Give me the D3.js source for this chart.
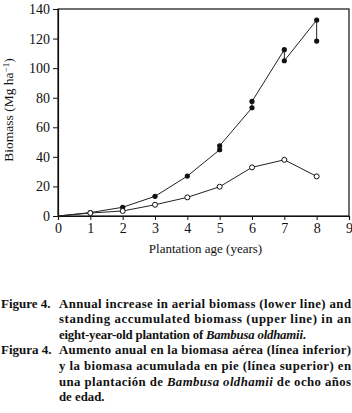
<!DOCTYPE html>
<html><head><meta charset="utf-8">
<script src="https://cdn.jsdelivr.net/npm/d3@7"></script>
<style>body{margin:0;background:#fff;} svg{display:block;}</style>
</head><body>
<svg id="c" width="352" height="413"></svg>
<script>
// Upper line: standing accumulated biomass (filled circles), in path order
const upperAge = [0, 1, 2, 3, 4, 5, 5, 6, 6, 7, 7, 8, 8];
const upperBio = [0, 2.3, 5.9, 13.3, 27, 44.8, 47.5, 73.2, 77.5, 112.5, 105, 132.5, 118.3];
// Lower line: annual increase in aerial biomass (open circles)
const lowerAge = [0, 1, 2, 3, 4, 5, 6, 7, 8];
const lowerBio = [0, 2.0, 3.4, 7.6, 12.6, 19.8, 32.9, 38, 26.8];
const xTicks = [0,1,2,3,4,5,6,7,8,9];
const yTicks = [0,20,40,60,80,100,120,140];

const FF = "Liberation Serif";
const svg = d3.select("#c");
const x = d3.scaleLinear().domain([0,9]).range([58,349]);
const y = d3.scaleLinear().domain([0,140]).range([216,9]);

svg.append("rect").attr("x",58).attr("y",9).attr("width",291).attr("height",207)
  .attr("fill","none").attr("stroke","#111").attr("stroke-width",1.2);

const xa = svg.append("g").attr("transform","translate(0,216)")
  .call(d3.axisBottom(x).tickValues(xTicks).tickSize(4).tickPadding(3).tickFormat(d3.format("d")));
const ya = svg.append("g").attr("transform","translate(58,0)")
  .call(d3.axisLeft(y).tickValues(yTicks).tickSize(5).tickPadding(3).tickFormat(d3.format("d")));
[xa,ya].forEach(a=>{
  a.attr("font-family",FF).attr("font-size",14);
  a.select(".domain").attr("stroke","#111").attr("stroke-width",1.2);
  a.selectAll(".tick line").attr("stroke","#111").attr("stroke-width",1);
  a.selectAll(".tick text").attr("font-family",FF).attr("font-size",14).attr("fill","#111");
});

const upper = upperAge.map((a,i)=>[a,upperBio[i]]);
const lower = lowerAge.map((a,i)=>[a,lowerBio[i]]);
const line = d3.line().x(d=>x(d[0])).y(d=>y(d[1]));

svg.append("path").datum(upper).attr("d",line).attr("fill","none").attr("stroke","#222").attr("stroke-width",1);
svg.append("path").datum(lower).attr("d",line).attr("fill","none").attr("stroke","#222").attr("stroke-width",1);

svg.selectAll(".up").data(upper.slice(1)).enter().append("circle")
  .attr("cx",d=>x(d[0])).attr("cy",d=>y(d[1])).attr("r",2.6).attr("fill","#111");
svg.selectAll(".lo").data(lower.slice(1)).enter().append("circle")
  .attr("cx",d=>x(d[0])).attr("cy",d=>y(d[1])).attr("r",2.5).attr("fill","#fff").attr("stroke","#111").attr("stroke-width",1);

svg.append("text").attr("x",205.5).attr("y",253).attr("text-anchor","middle")
  .attr("font-family",FF).attr("font-size",13).attr("fill","#111").text("Plantation age (years)");
const yl = svg.append("text").attr("transform","translate(13,110) rotate(-90)")
  .attr("text-anchor","middle").attr("font-family",FF).attr("font-size",13.5).attr("fill","#111");
yl.append("tspan").text("Biomass (Mg ha");
yl.append("tspan").attr("dy",-4).attr("font-size",9).text("−1");
yl.append("tspan").attr("dy",4).text(")");

const cap = [
  {lab:"Figure 4.", parts:[["Annual increase in aerial biomass (lower line) and",0]], y:307.5, w:292},
  {lab:null, parts:[["standing accumulated biomass (upper line) in an",0]], y:323, w:292},
  {lab:null, parts:[["eight-year-old plantation of ",0],["Bambusa oldhamii",1],[".",0]], y:338.5, w:247},
  {lab:"Figura 4.", parts:[["Aumento anual en la biomasa aérea (línea inferior)",0]], y:354, w:292},
  {lab:null, parts:[["y la biomasa acumulada en pie (línea superior) en",0]], y:369.5, w:292},
  {lab:null, parts:[["una plantación de ",0],["Bambusa oldhamii",1],[" de ocho años",0]], y:385.5, w:292},
  {lab:null, parts:[["de edad.",0]], y:401, w:0}
];
const capX = 59;
cap.forEach(c=>{
  if(c.lab) svg.append("text").attr("x",1).attr("y",c.y).attr("font-family",FF).attr("font-size",13)
    .attr("font-weight","bold").attr("fill","#111").text(c.lab);
  const t = svg.append("text").attr("x",capX).attr("y",c.y).attr("font-family",FF).attr("font-size",12.8)
    .attr("font-weight","bold").attr("fill","#111");
  c.parts.forEach(p=>t.append("tspan").attr("font-style",p[1]?"italic":"normal").text(p[0]));
  if(c.w) t.attr("textLength",c.w).attr("lengthAdjust","spacing");
});
</script></body></html>
